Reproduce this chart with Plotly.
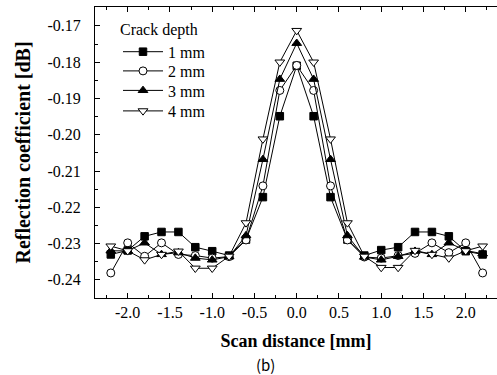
import plotly.graph_objects as go

x = [-2.2, -2.0, -1.8, -1.6, -1.4, -1.2, -1.0, -0.8, -0.6, -0.4, -0.2, 0.0,
     0.2, 0.4, 0.6, 0.8, 1.0, 1.2, 1.4, 1.6, 1.8, 2.0, 2.2]

d1 = [-0.2330, -0.2319, -0.2280, -0.2268, -0.2268, -0.2310, -0.2321, -0.2333,
      -0.2289, -0.2172, -0.1949, -0.1810, -0.1949, -0.2172, -0.2289, -0.2333,
      -0.2318, -0.2310, -0.2268, -0.2268, -0.2280, -0.2321, -0.2330]
d2 = [-0.2381, -0.2298, -0.2335, -0.2298, -0.2330, -0.2333, -0.2340, -0.2336,
      -0.2290, -0.2141, -0.1878, -0.1809, -0.1878, -0.2141, -0.2290, -0.2337,
      -0.2340, -0.2333, -0.2327, -0.2298, -0.2325, -0.2298, -0.2381]
d3 = [-0.2320, -0.2320, -0.2298, -0.2330, -0.2325, -0.2340, -0.2345, -0.2336,
      -0.2278, -0.2068, -0.1847, -0.1748, -0.1847, -0.2068, -0.2278, -0.2337,
      -0.2345, -0.2335, -0.2321, -0.2330, -0.2298, -0.2319, -0.2328]
d4 = [-0.2307, -0.2320, -0.2345, -0.2330, -0.2321, -0.2368, -0.2368, -0.2335,
      -0.2243, -0.2012, -0.1800, -0.1713, -0.1800, -0.2012, -0.2243, -0.2335,
      -0.2366, -0.2366, -0.2319, -0.2330, -0.2340, -0.2320, -0.2307]

names = ["1 mm", "2 mm", "3 mm", "4 mm"]
series = [d1, d2, d3, d4]
symbols = ["square", "circle", "triangle-up", "triangle-down"]
fills = ["black", "white", "black", "white"]
sizes = [7.5, 8, 8.5, 8.5]

x_tickvals = [-2.0, -1.5, -1.0, -0.5, 0.0, 0.5, 1.0, 1.5, 2.0]
x_ticktext = ["-2.0", "-1.5", "-1.0", "-0.5", "0.0", "0.5", "1.0", "1.5", "2.0"]
y_tickvals = [-0.24, -0.23, -0.22, -0.21, -0.20, -0.19, -0.18, -0.17]
y_ticktext = ["-0.24", "-0.23", "-0.22", "-0.21", "-0.20", "-0.19", "-0.18", "-0.17"]

FONT = "Liberation Serif"
W, H = 497, 375
L, R, T, B = 95, 0, 7, 77
PW, PH = W - L - R, H - T - B

fig = go.Figure()
legend_ids = ["legend", "legend2", "legend3", "legend4"]
for nm, ys, sym, fc, sz, lg in zip(names, series, symbols, fills, sizes, legend_ids):
    fig.add_trace(go.Scatter(
        x=x, y=ys, name=nm, mode="lines+markers", legend=lg,
        line=dict(color="black", width=1),
        marker=dict(symbol=sym, size=sz, color=fc,
                    line=dict(color="black", width=1)),
    ))

def py(pix):
    return (H - B - pix) / PH

leg_common = dict(
    xanchor="left", yanchor="top", bgcolor="rgba(0,0,0,0)", borderwidth=0,
    font=dict(family=FONT, size=16), itemwidth=40,
)
lx = (118 - L) / PW
layout_legends = {
    "legend": dict(title=dict(text="Crack depth", font=dict(family=FONT, size=16)),
                   x=lx, y=py(14), **leg_common),
}
for lg, top in zip(legend_ids[1:], [54, 73.5, 94]):
    layout_legends[lg] = dict(x=lx, y=py(top), **leg_common)

fig.update_layout(
    width=W, height=H,
    margin=dict(l=L, r=R, t=T, b=B),
    plot_bgcolor="white", paper_bgcolor="white",
    font=dict(family=FONT, size=16, color="black"),
    showlegend=True,
    xaxis=dict(
        range=[-2.387, 2.370], tickvals=x_tickvals, ticktext=x_ticktext,
        showline=True, linecolor="black", linewidth=1, mirror="ticks",
        ticks="inside", ticklen=5, tickcolor="black",
        minor=dict(ticks="inside", dtick=0.25, tick0=0, ticklen=3, tickcolor="black"),
        showgrid=False, zeroline=False,
        title=dict(text="<b>Scan distance [mm]</b>", font=dict(family=FONT, size=18), standoff=14),
        tickfont=dict(family=FONT, size=16),
    ),
    yaxis=dict(
        range=[-0.2450, -0.1648], tickvals=y_tickvals, ticktext=y_ticktext,
        showline=True, linecolor="black", linewidth=1,
        ticks="inside", ticklen=5, tickcolor="black",
        minor=dict(ticks="inside", dtick=0.005, tick0=0, ticklen=3, tickcolor="black"),
        showgrid=False, zeroline=False, ticklabelstandoff=10,
        title=dict(text="<b>Reflection coefficient [dB]</b>", font=dict(family=FONT, size=20), standoff=11),
        tickfont=dict(family=FONT, size=16),
    ),
    annotations=[dict(
        text="(b)", xref="paper", yref="paper", x=(265 - L) / PW, y=-(364 - (H - B)) / PH,
        xanchor="center", yanchor="middle", showarrow=False,
        font=dict(family="Noto Sans CJK KR", size=15, color="black"),
    )],
    **layout_legends,
)

fig.write_html("out.html")
